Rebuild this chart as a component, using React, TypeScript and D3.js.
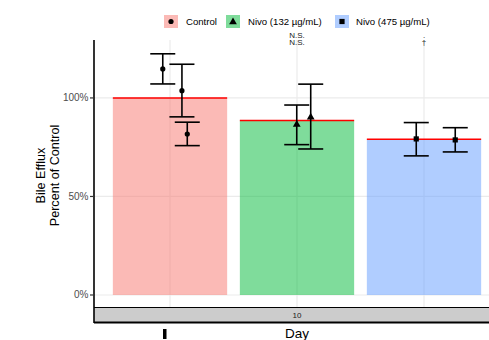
import * as d3 from "d3";

// groups and bar heights (mean of replicates, % of control)
const groups = ["Control", "Nivo (132 µg/mL)", "Nivo (475 µg/mL)"];
const barMeans = [100, 88.6, 79.0];
const fills = ["#F8766D", "#00BA38", "#619CFF"];
const shapes = ["circle", "triangle", "square"];

// replicate points: mean, lower, upper, horizontal jitter (fraction of band step)
const controlMean = [114.7, 103.7, 81.7];
const controlLo = [107.1, 90.4, 75.8];
const controlHi = [122.4, 117.1, 87.7];
const controlJitter = [-0.057, 0.094, 0.136];

const nivo132Mean = [86.8, 90.5];
const nivo132Lo = [76.3, 74.1];
const nivo132Hi = [96.4, 107.0];
const nivo132Jitter = [-0.002, 0.108];

const nivo475Mean = [79.2, 78.7];
const nivo475Lo = [70.6, 72.6];
const nivo475Hi = [87.5, 84.9];
const nivo475Jitter = [-0.061, 0.246];

const yTicks = [0, 50, 100];
const annotations = [
  ["", ""],
  ["N.S.", "N.S."],
  [".", "†"],
];
const dayLabel = "10";

const font = "'Liberation Sans', Arial, Helvetica, sans-serif";

export default function App() {
  const width = 489;
  const height = 340;
  const panel = { left: 94, top: 40, bottom: 308, right: 500 };

  const y = d3.scaleLinear().domain([-6.6, 129.4]).range([panel.bottom, panel.top]);
  const x = d3
    .scaleBand()
    .domain(groups)
    .range([106.5, 487.5])
    .paddingInner(0.1)
    .paddingOuter(0.05);
  const step = x.step();
  const cx = (g: string) => x(g)! + x.bandwidth() / 2;

  const reps = [
    { mean: controlMean, lo: controlLo, hi: controlHi, jit: controlJitter },
    { mean: nivo132Mean, lo: nivo132Lo, hi: nivo132Hi, jit: nivo132Jitter },
    { mean: nivo475Mean, lo: nivo475Lo, hi: nivo475Hi, jit: nivo475Jitter },
  ];

  const capW = step * 0.197;

  const marker = (shape: string, px: number, py: number, key: string) => {
    if (shape === "circle") return <circle key={key} cx={px} cy={py} r={2.6} fill="#000" />;
    if (shape === "triangle") {
      const s = d3.symbol().type(d3.symbolTriangle).size(26)();
      return <path key={key} d={s!} transform={`translate(${px},${py + 0.5})`} fill="#000" />;
    }
    return <rect key={key} x={px - 2.6} y={py - 2.6} width={5.2} height={5.2} fill="#000" />;
  };

  const legendItems = [
    { keyX: 164, textX: 186 },
    { keyX: 226, textX: 248 },
    { keyX: 335, textX: 356 },
  ];

  return (
    <svg
      width={width}
      height={height}
      style={{ position: "absolute", left: 0, top: 0, background: "#fff" }}
      fontFamily={font}
    >
      <rect x={0} y={0} width={width} height={height} fill="#fff" />
      <defs>
        <clipPath id="panelClip">
          <rect x={panel.left} y={panel.top} width={panel.right - panel.left} height={panel.bottom - panel.top} />
        </clipPath>
      </defs>

      {/* grid */}
      <g clipPath="url(#panelClip)">
        {yTicks.map((t) => (
          <line key={t} x1={panel.left} x2={panel.right} y1={y(t)} y2={y(t)} stroke="#ebebeb" strokeWidth={1.2} />
        ))}
        {groups.map((g) => (
          <line key={g} x1={cx(g)} x2={cx(g)} y1={panel.top} y2={panel.bottom} stroke="#ebebeb" strokeWidth={1.2} />
        ))}

        {/* bars */}
        {groups.map((g, i) => (
          <g key={g}>
            <rect
              x={x(g)}
              y={y(barMeans[i])}
              width={x.bandwidth()}
              height={y(0) - y(barMeans[i])}
              fill={fills[i]}
              fillOpacity={0.5}
            />
            <line
              x1={x(g)}
              x2={x(g)! + x.bandwidth()}
              y1={y(barMeans[i])}
              y2={y(barMeans[i])}
              stroke="#ff0000"
              strokeWidth={1.5}
            />
          </g>
        ))}

        {/* error bars */}
        {groups.map((g, i) =>
          reps[i].mean.map((m, j) => {
            const px = cx(g) + reps[i].jit[j] * step;
            return (
              <g key={`${g}-${j}`}>
                <line x1={px} x2={px} y1={y(reps[i].hi[j])} y2={y(reps[i].lo[j])} stroke="#000" strokeWidth={1.6} />
                <line x1={px - capW / 2} x2={px + capW / 2} y1={y(reps[i].hi[j])} y2={y(reps[i].hi[j])} stroke="#000" strokeWidth={1.6} />
                <line x1={px - capW / 2} x2={px + capW / 2} y1={y(reps[i].lo[j])} y2={y(reps[i].lo[j])} stroke="#000" strokeWidth={1.6} />
                {marker(shapes[i], px, y(m), `m-${g}-${j}`)}
              </g>
            );
          })
        )}
      </g>

      {/* significance annotations */}
      {groups.map((g, i) => (
        <g key={`a-${g}`} fontSize={8} fill="#1a1a1a" textAnchor="middle">
          <text x={cx(g)} y={37.5}>{annotations[i][0]}</text>
          <text x={cx(g)} y={45}>{annotations[i][1]}</text>
        </g>
      ))}

      {/* strip */}
      <rect x={panel.left} y={panel.bottom - 0.5} width={panel.right - panel.left} height={15} fill="#cccccc" />
      <line x1={panel.left} x2={width} y1={panel.bottom - 0.5} y2={panel.bottom - 0.5} stroke="#000" strokeWidth={1} />
      <line x1={panel.left} x2={width} y1={322.5} y2={322.5} stroke="#000" strokeWidth={1.8} />
      <text x={cx(groups[1])} y={318} fontSize={8} fill="#1a1a1a" textAnchor="middle">
        {dayLabel}
      </text>

      {/* y axis */}
      <line x1={panel.left} x2={panel.left} y1={panel.top} y2={323} stroke="#000" strokeWidth={1.6} />
      {yTicks.map((t) => (
        <g key={`yt-${t}`}>
          <line x1={panel.left - 4} x2={panel.left} y1={y(t)} y2={y(t)} stroke="#333" strokeWidth={1.2} />
          <text x={panel.left - 5.5} y={y(t)} dy="0.35em" fontSize={10} fill="#4d4d4d" textAnchor="end">
            {d3.format(".0%")(t / 100)}
          </text>
        </g>
      ))}

      {/* y title */}
      <g fontSize={12.6} fill="#000" textAnchor="middle">
        <text transform="translate(45,175.5) rotate(-90)">Bile Efflux</text>
        <text transform="translate(58.5,175.5) rotate(-90)">Percent of Control</text>
      </g>

      {/* x title and stray tick glyph */}
      <rect x={163} y={329} width={3.5} height={10} fill="#000" />
      <text x={cx(groups[1])} y={338} fontSize={13.5} fill="#000" textAnchor="middle">
        Day
      </text>

      {/* legend */}
      {groups.map((g, i) => (
        <g key={`lg-${g}`}>
          <rect x={legendItems[i].keyX} y={15} width={14} height={13} fill={fills[i]} fillOpacity={0.5} />
          {marker(shapes[i], legendItems[i].keyX + 7, 21.5, `lm-${i}`)}
          <text x={legendItems[i].textX} y={21.5} dy="0.35em" fontSize={9.6} fill="#000">
            {g}
          </text>
        </g>
      ))}
    </svg>
  );
}
